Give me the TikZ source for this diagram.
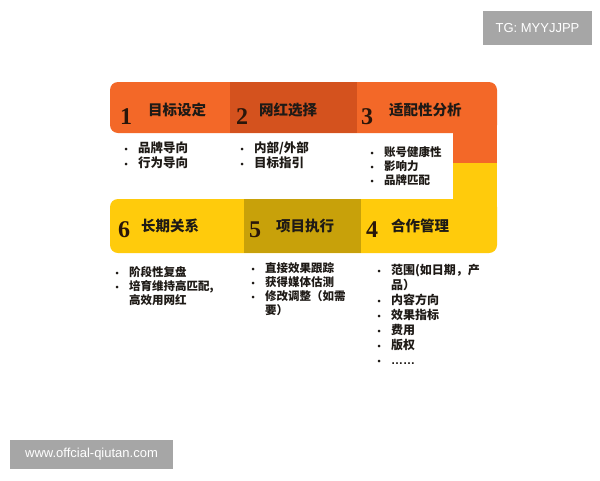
\documentclass[tikz,border=0pt]{standalone}
\usepackage{fontspec}
\setmainfont{Noto Sans CJK SC}
\newfontfamily\numfont{Liberation Serif}
\newfontfamily\wmfont{Liberation Sans}
\definecolor{cOrange}{RGB}{243,104,40}
\definecolor{cOrangeD}{RGB}{212,82,30}
\definecolor{cYellow}{RGB}{255,203,12}
\definecolor{cYellowD}{RGB}{200,161,10}
\definecolor{cText}{RGB}{30,26,22}
\definecolor{cNum}{RGB}{42,22,10}
\definecolor{cWm}{RGB}{166,166,166}
\newcommand{\blt}{{\wmfont\fontsize{9}{9}\selectfont •}}
\tikzset{
  numtxt/.style={anchor=base, inner sep=0pt, text=cNum, font=\numfont\bfseries\fontsize{24}{24}\selectfont},
  ttltxt/.style={anchor=base west, inner sep=0pt, text=cText, font=\bfseries\fontsize{14.5}{14.5}\selectfont},
  itemlist/.style={anchor=base west, inner sep=0pt, text=cText, align=left},
  wmbox/.style={fill=cWm, inner sep=0pt},
  wmtxt/.style={text=white, inner sep=0pt, font=\wmfont\fontsize{13}{13}\selectfont}
}
\newcommand{\lst}[3]{\fontsize{#1}{#2}\selectfont\bfseries\begin{tabular}[t]{@{}l@{\hspace{10.5pt}}l@{}}#3\end{tabular}}
\begin{document}
\begin{tikzpicture}[x=1pt,y=-1pt]
\useasboundingbox (0,0) rectangle (600,480);
\fill[white] (0,0) rectangle (600,480);
% orange band and column
\fill[cOrange, rounded corners=8pt] (110,82) rectangle (497,133);
\fill[cOrange] (453,100) rectangle (497,163.5);
\fill[cOrangeD] (230,82) rectangle (357,133);
% yellow column and band
\fill[cYellow] (453,163) rectangle (497,215);
\fill[cYellow, rounded corners=8pt] (110,199) rectangle (497,253);
\fill[cYellowD] (244,199) rectangle (361,253);
% row 1 titles
\node[numtxt] (n1) at (126,124) {1};
\node[ttltxt] (t1) at (148,115.5) {目标设定};
\node[numtxt] (n2) at (242,124) {2};
\node[ttltxt] (t2) at (259,115.5) {网红选择};
\node[numtxt] (n3) at (367,124) {3};
\node[ttltxt] (t3) at (389,115.5) {适配性分析};
% row 2 titles
\node[numtxt] (n6) at (124,237) {6};
\node[ttltxt] (t6) at (141,231.5) {长期关系};
\node[numtxt] (n5) at (255,237) {5};
\node[ttltxt] (t5) at (276,231.5) {项目执行};
\node[numtxt] (n4) at (372,237) {4};
\node[ttltxt] (t4) at (391,231.5) {合作管理};
% row 1 lists
\node[itemlist] (l1) at (124.3,152.6) {\lst{12.5}{14}{\blt & 品牌导向\\ \blt & 行为导向}};
\node[itemlist] (l2) at (240.3,152.6) {\lst{12.5}{14}{\blt & 内部/外部\\ \blt & 目标指引}};
\node[itemlist] (l3) at (370.3,156.3) {\lst{11.5}{13.5}{\blt & 账号健康性\\ \blt & 影响力\\ \blt & 品牌匹配}};
% row 2 lists
\node[itemlist] (l6) at (115.3,276.3) {\lst{11.5}{13.5}{\blt & 阶段性复盘\\ \blt & 培育维持高匹配,\\ & 高效用网红}};
\node[itemlist] (l5) at (251.3,272.3) {\lst{11.5}{13.4}{\blt & 直接效果跟踪\\ \blt & 获得媒体估测\\ \blt & 修改调整（如需\\ & 要）}};
\node[itemlist] (l4) at (377.3,274.6) {\lst{12}{15}{\blt & 范围(如日期，产\\ & 品）\\ \blt & 内容方向\\ \blt & 效果指标\\ \blt & 费用\\ \blt & 版权\\ \blt & {\wmfont ……}}};
% watermarks
\node[wmbox, minimum width=109pt, minimum height=34pt] (wm1) at (537.5,28) {};
\node[wmtxt] (wt1) at (wm1.center) {TG: MYYJJPP};
\node[wmbox, minimum width=163pt, minimum height=29pt] (wm2) at (91.5,454.5) {};
\node[wmtxt] (wt2) at (wm2.center) {www.offcial-qiutan.com};
\end{tikzpicture}
\end{document}
